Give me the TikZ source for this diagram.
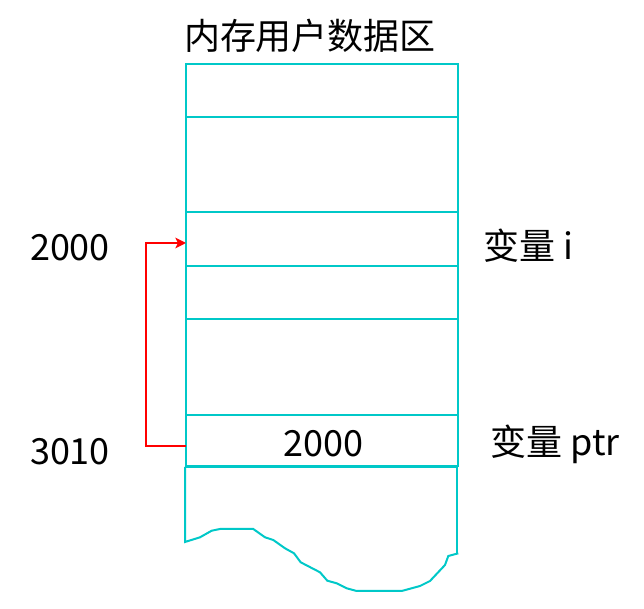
\documentclass[tikz,border=0pt]{standalone}
\usepackage{fontspec}
\setmainfont{Noto Sans CJK SC}
\usetikzlibrary{arrows.meta}
\definecolor{cy}{RGB}{0,200,200}
\begin{document}
\begin{tikzpicture}[x=0.75pt,y=-0.75pt,
  cell/.style={draw=cy,line width=1.5pt},
  lbl/.style={inner sep=0pt,font=\fontsize{27pt}{31pt}\selectfont}]
\useasboundingbox (0,0) rectangle (644,609);
\node[lbl] (title) at (310,36) {内存用户数据区};
\draw[cell] (186,64) rectangle (458,466);
\foreach \y in {117,212,266,319,415} \draw[cell] (186,\y) -- (458,\y);
\coordinate (r1) at (186,243);
\coordinate (r6) at (186,446);
\draw[cy,line width=1.5pt] (185,467) -- (185,542) -- (200,537.3) -- (211.7,530.7) -- (220,529) -- (253.3,529) -- (265,537.3) -- (273.3,540) -- (285,548.3) -- (294,553.3) -- (300.7,562.3) -- (320,572.3) -- (327.3,580.7) -- (336.7,583.3) -- (346.7,588.3) -- (356.7,591) -- (401.7,591) -- (420,586) -- (430,581) -- (445,565) -- (448.3,556) -- (458.3,553.3);
\draw[cy,line width=1.5pt] (457,467) -- (457,554);
\draw[cy,line width=1.5pt] (185,467) -- (457,467);
\node[lbl] (a2000) at (70,248) {2000};
\node[lbl] (a3010) at (70,452) {3010};
\node[lbl] (v2000) at (323.5,444) {2000};
\node[lbl,anchor=west] (vi) at (483,246) {变量 i};
\node[lbl,anchor=west] (vptr) at (490,444) {变量 ptr};
\draw[red,line width=1.4pt,-{Stealth[length=8pt,width=8pt,inset=2pt]}] (r6) -- (146,446) -- (146,243) -- (r1);
\end{tikzpicture}
\end{document}
